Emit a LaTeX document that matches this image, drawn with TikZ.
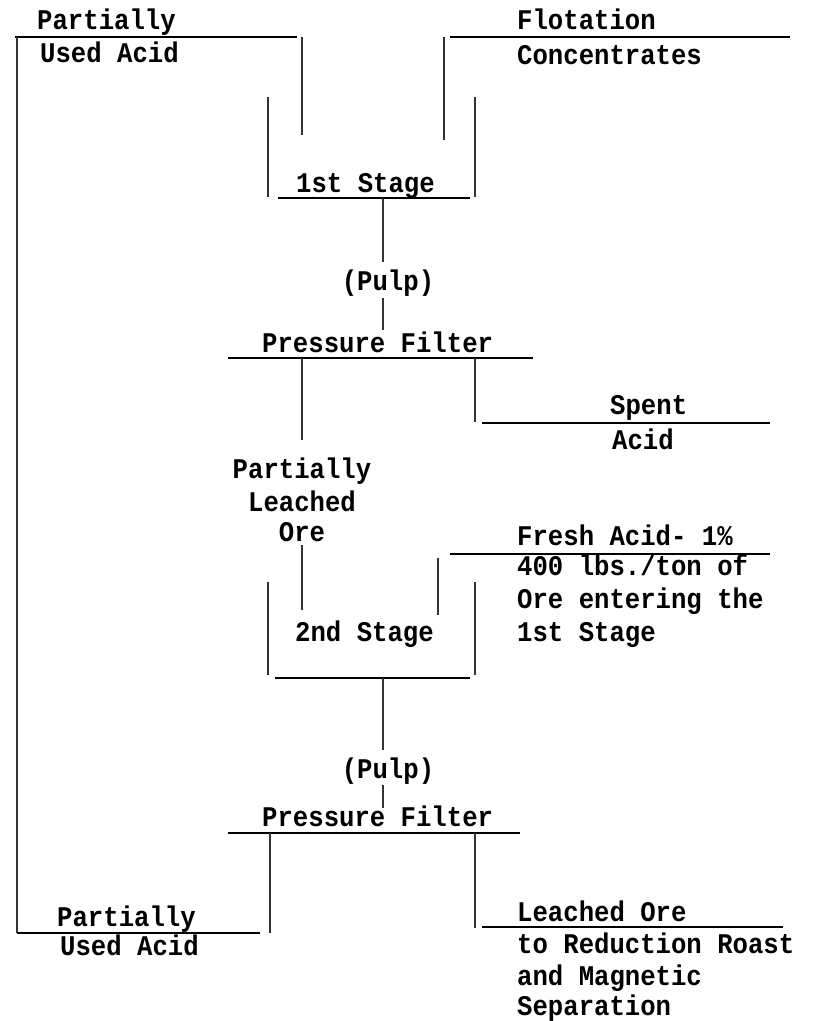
\documentclass[tikz,border=0pt]{standalone}
\usepackage{fontspec}
\setmonofont[FakeStretch=0.9]{Liberation Mono}
\begin{document}
\begin{tikzpicture}[x=1pt,y=-1pt,
  lbl/.style={anchor=base west,inner sep=0pt,font=\ttfamily\bfseries\fontsize{28.5}{32}\selectfont},
  clbl/.style={anchor=base,inner sep=0pt,font=\ttfamily\bfseries\fontsize{28.5}{32}\selectfont},
  ln/.style={line width=2pt,black},
  thin/.style={line width=1.2pt,black!80}]
\useasboundingbox[fill=white] (0,0) rectangle (814,1021);
% coordinates
\coordinate (tl0) at (15,37); \coordinate (tl1) at (297,37);
\coordinate (lv0) at (17,37); \coordinate (lv1) at (17,933);
\coordinate (fa0) at (302,37); \coordinate (fa1) at (302,135);
\coordinate (tr0) at (450,37); \coordinate (tr1) at (790,37);
\coordinate (fc0) at (444,37); \coordinate (fc1) at (444,140);
\coordinate (v1l0) at (268,97); \coordinate (v1l1) at (268,197);
\coordinate (v1r0) at (475,97); \coordinate (v1r1) at (475,197);
\coordinate (v1b0) at (278,198); \coordinate (v1b1) at (470,198);
\coordinate (p1a) at (383,198); \coordinate (p1b) at (383,262);
\coordinate (p1c) at (383,298); \coordinate (p1d) at (383,330);
\coordinate (pf1a) at (228,358); \coordinate (pf1b) at (533,358);
\coordinate (pl0) at (302,358); \coordinate (pl1) at (302,440);
\coordinate (sa0) at (475,358); \coordinate (sa1) at (475,422);
\coordinate (sh0) at (482,423); \coordinate (sh1) at (770,423);
\coordinate (ol0) at (302,545); \coordinate (ol1) at (302,610);
\coordinate (fh0) at (450,554); \coordinate (fh1) at (770,554);
\coordinate (fv0) at (438,558); \coordinate (fv1) at (438,615);
\coordinate (v2l0) at (268,582); \coordinate (v2l1) at (268,675);
\coordinate (v2r0) at (475,582); \coordinate (v2r1) at (475,675);
\coordinate (v2b0) at (275,678); \coordinate (v2b1) at (470,678);
\coordinate (p2a) at (383,678); \coordinate (p2b) at (383,750);
\coordinate (p2c) at (383,785); \coordinate (p2d) at (383,808);
\coordinate (pf2a) at (228,833); \coordinate (pf2b) at (520,833);
\coordinate (bl0) at (270,833); \coordinate (bl1) at (270,933);
\coordinate (br0) at (475,833); \coordinate (br1) at (475,928);
\coordinate (bh0) at (17,933); \coordinate (bh1) at (260,933);
\coordinate (rh0) at (482,927); \coordinate (rh1) at (783,927);
% lines
\draw[ln] (tl0) -- (tl1);
\draw[thin] (lv0) -- (lv1);
\draw[thin] (fa0) -- (fa1);
\draw[ln] (tr0) -- (tr1);
\draw[thin] (fc0) -- (fc1);
\draw[thin] (v1l0) -- (v1l1);
\draw[thin] (v1r0) -- (v1r1);
\draw[ln] (v1b0) -- (v1b1);
\draw[thin] (p1a) -- (p1b);
\draw[thin] (p1c) -- (p1d);
\draw[ln] (pf1a) -- (pf1b);
\draw[thin] (pl0) -- (pl1);
\draw[thin] (sa0) -- (sa1);
\draw[ln] (sh0) -- (sh1);
\draw[thin] (ol0) -- (ol1);
\draw[ln] (fh0) -- (fh1);
\draw[thin] (fv0) -- (fv1);
\draw[thin] (v2l0) -- (v2l1);
\draw[thin] (v2r0) -- (v2r1);
\draw[ln] (v2b0) -- (v2b1);
\draw[thin] (p2a) -- (p2b);
\draw[thin] (p2c) -- (p2d);
\draw[ln] (pf2a) -- (pf2b);
\draw[thin] (bl0) -- (bl1);
\draw[thin] (br0) -- (br1);
\draw[ln] (bh0) -- (bh1);
\draw[ln] (rh0) -- (rh1);
% texts
\node[lbl] (t1) at (37,29) {Partially};
\node[lbl] (t2) at (40,62) {Used Acid};
\node[lbl] (t3) at (517,29) {Flotation};
\node[lbl] (t4) at (517,64) {Concentrates};
\node[lbl] (t5) at (296,192) {1st Stage};
\node[clbl] (t6) at (388,290) {(Pulp)};
\node[lbl] (t7) at (262,352) {Pressure Filter};
\node[lbl] (t8) at (610,414) {Spent};
\node[lbl] (t9) at (612,449) {Acid};
\node[clbl] (t10) at (302,478) {Partially};
\node[clbl] (t11) at (302,511) {Leached};
\node[clbl] (t12) at (302,541) {Ore};
\node[lbl] (t13) at (517,545) {Fresh Acid- 1\%};
\node[lbl] (t14) at (517,575) {400 lbs./ton of};
\node[lbl] (t15) at (517,608) {Ore entering the};
\node[lbl] (t16) at (517,641) {1st Stage};
\node[lbl] (t17) at (295,641) {2nd Stage};
\node[clbl] (t18) at (388,778) {(Pulp)};
\node[lbl] (t19) at (262,826) {Pressure Filter};
\node[lbl] (t20) at (57,926) {Partially};
\node[lbl] (t21) at (60,955) {Used Acid};
\node[lbl] (t22) at (517,921) {Leached Ore};
\node[lbl] (t23) at (517,953) {to Reduction Roast};
\node[lbl] (t24) at (517,985) {and Magnetic};
\node[lbl] (t25) at (517,1015) {Separation};
\end{tikzpicture}
\end{document}
